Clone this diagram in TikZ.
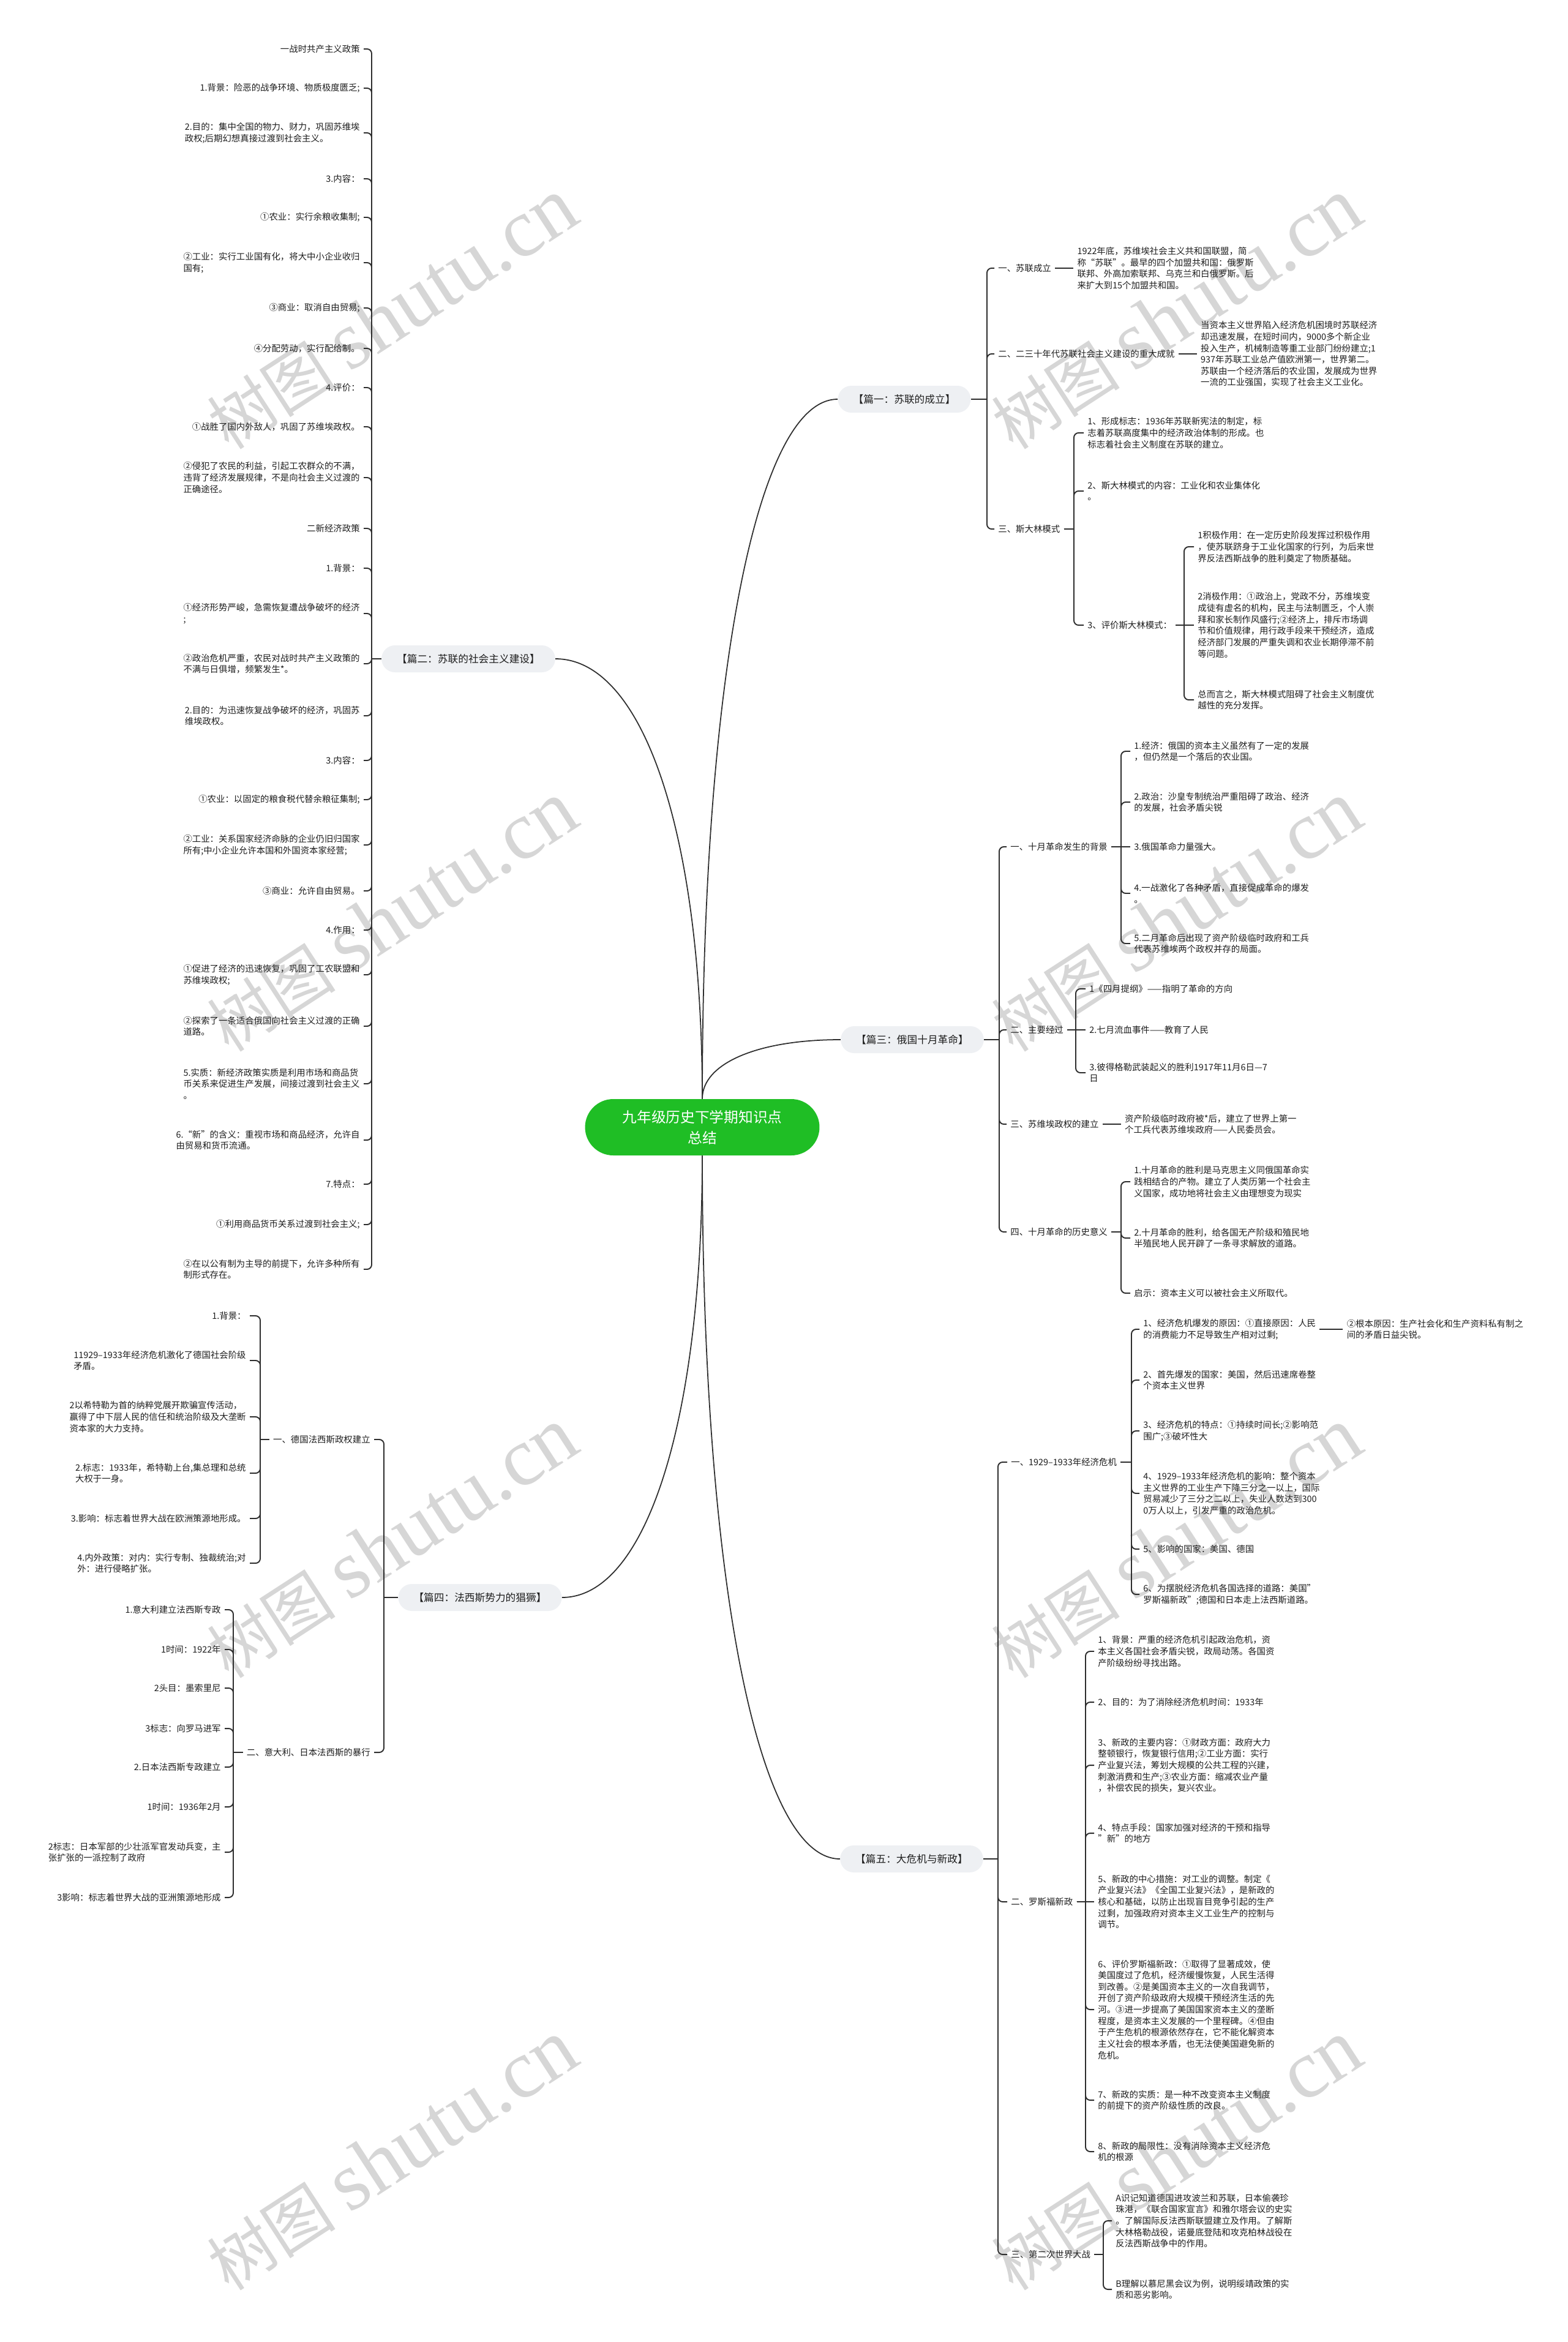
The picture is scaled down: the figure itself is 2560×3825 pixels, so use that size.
\documentclass[tikz,border=0pt]{standalone}
\usepackage{fontspec}
\setmainfont{Noto Sans CJK SC}
\newfontfamily\wmlatin{Liberation Serif}
\usetikzlibrary{positioning, calc}
\definecolor{rootgreen}{HTML}{1FBE25}
\definecolor{pillgray} {HTML}{EEF0F3}
\definecolor{ink}      {HTML}{1E1E1E}
\definecolor{wire}     {HTML}{2E2E2E}
\definecolor{wmark}    {HTML}{D6D6D6}

% elbow links: straight stub from the parent to its spine, rounded turn into the child
\newcommand{\linkR}[3]{\draw[link] (#1.east) -- (#3 |- #1.east); \draw[link] (#3 |- #1.east) -- (#3 |- #2.west) -- (#2.west);}
\newcommand{\linkL}[3]{\draw[link] (#1.west) -- (#3 |- #1.west); \draw[link] (#3 |- #1.west) -- (#3 |- #2.east) -- (#2.east);}
\newcommand{\trunkto}[2]{\draw[trunk] (#1) .. controls ($(#1)!0.6!(#1 |- #2)$) and ($(#2)!0.6!(#1 |- #2)$) .. (#2);}

\begin{document}
\begin{tikzpicture}[x=0.02cm, y=-0.02cm,
    txt/.style={font=\fontsize{8.2}{10.6}\selectfont, text=ink, align=left, inner xsep=0.12cm, inner ysep=0.04cm},
    tr/.style={txt, anchor=west},
    tl/.style={txt, anchor=east},
    pill/.style={fill=pillgray, text=ink, font=\fontsize{9.5}{11}\selectfont, rounded corners=0.44cm, minimum height=0.88cm, inner xsep=0.5cm},
    rootbox/.style={fill=rootgreen, text=white, font=\fontsize{13.5}{19.5}\selectfont, align=center, rounded corners=0.92cm, minimum width=7.66cm, minimum height=1.84cm},
    link/.style={draw=wire, line width=1.1pt, rounded corners=0.15cm},
    trunk/.style={draw=wire, line width=1pt},
    wm/.style={text=wmark, rotate=33, font=\fontsize{60}{60}\selectfont}]
  \useasboundingbox (0,0) rectangle (2560,3825);
  \fill[white] (0,0) rectangle (2560,3825);

  % watermarks
  \foreach \wx in {640,1921}
    \foreach \wy in {513,1497,2520,3520}
      \node[wm] (wm-\wx-\wy) at (\wx,\wy) {树图 {\wmlatin\fontsize{77}{77}\selectfont shutu.cn}};

  \node[rootbox] (root) at (1147,1841) {九年级历史下学期知识点\\总结};

  \node[pill] (p1) at (1477,652)  {【篇一：苏联的成立】};
  \node[pill] (p2) at (765,1076)  {【篇二：苏联的社会主义建设】};
  \node[pill] (p3) at (1490,1698) {【篇三：俄国十月革命】};
  \node[pill] (p4) at (784,2609)  {【篇四：法西斯势力的猖獗】};
  \node[pill] (p5) at (1489,3036) {【篇五：大危机与新政】};

  % 篇一
  \node[tr] (a1) at (1624,438) {一、苏联成立};
  \node[tr, right=0.6cm of a1] (a1t) {1922年底，苏维埃社会主义共和国联盟，简\\称“苏联”。最早的四个加盟共和国：俄罗斯\\联邦、外高加索联邦、乌克兰和白俄罗斯。后\\来扩大到15个加盟共和国。};
  \node[tr] (a2) at (1624,578) {二、二三十年代苏联社会主义建设的重大成就};
  \node[tr, right=0.6cm of a2] (a2t) {当资本主义世界陷入经济危机困境时苏联经济\\却迅速发展，在短时间内，9000多个新企业\\投入生产，机械制造等重工业部门纷纷建立;1\\937年苏联工业总产值欧洲第一，世界第二。\\苏联由一个经济落后的农业国，发展成为世界\\一流的工业强国，实现了社会主义工业化。};
  \node[tr] (a3) at (1624,864) {三、斯大林模式};
  \node[tr] (a31) at (1770,707) {1、形成标志：1936年苏联新宪法的制定，标\\志着苏联高度集中的经济政治体制的形成。也\\标志着社会主义制度在苏联的建立。};
  \node[tr] (a32) at (1770,802) {2、斯大林模式的内容：工业化和农业集体化\\。};
  \node[tr] (a33) at (1770,1021) {3、评价斯大林模式：};
  \node[tr] (a331) at (1950,893) {1积极作用：在一定历史阶段发挥过积极作用\\，使苏联跻身于工业化国家的行列，为后来世\\界反法西斯战争的胜利奠定了物质基础。};
  \node[tr] (a332) at (1950,1021) {2消极作用：①政治上，党政不分，苏维埃变\\成徒有虚名的机构，民主与法制匮乏，个人崇\\拜和家长制作风盛行;②经济上，排斥市场调\\节和价值规律，用行政手段来干预经济，造成\\经济部门发展的严重失调和农业长期停滞不前\\等问题。};
  \node[tr] (a333) at (1950,1143) {总而言之，斯大林模式阻碍了社会主义制度优\\越性的充分发挥。};

  % 篇二
  \node[tl] (e1)  at (594,80)   {一战时共产主义政策};
  \node[tl] (e2)  at (594,144)  {1.背景：险恶的战争环境、物质极度匮乏;};
  \node[tl] (e3)  at (594,217)  {2.目的：集中全国的物力、财力，巩固苏维埃\\政权;后期幻想真接过渡到社会主义。};
  \node[tl] (e4)  at (594,292)  {3.内容：};
  \node[tl] (e5)  at (594,355)  {①农业：实行余粮收集制;};
  \node[tl] (e6)  at (594,429)  {②工业：实行工业国有化，将大中小企业收归\\国有;};
  \node[tl] (e7)  at (594,503)  {③商业：取消自由贸易;};
  \node[tl] (e8)  at (594,569)  {④分配劳动，实行配给制。};
  \node[tl] (e9)  at (594,633)  {4.评价：};
  \node[tl] (e10) at (594,697)  {①战胜了国内外敌人，巩固了苏维埃政权。};
  \node[tl] (e11) at (594,780)  {②侵犯了农民的利益，引起工农群众的不满，\\违背了经济发展规律，不是向社会主义过渡的\\正确途径。};
  \node[tl] (e12) at (594,863)  {二新经济政策};
  \node[tl] (e13) at (594,928)  {1.背景：};
  \node[tl] (e14) at (594,1002) {①经济形势严峻，急需恢复遭战争破坏的经济\\;};
  \node[tl] (e15) at (594,1084) {②政治危机严重，农民对战时共产主义政策的\\不满与日俱增，频繁发生*。};
  \node[tl] (e16) at (594,1169) {2.目的：为迅速恢复战争破坏的经济，巩固苏\\维埃政权。};
  \node[tl] (e17) at (594,1242) {3.内容：};
  \node[tl] (e18) at (594,1306) {①农业：以固定的粮食税代替余粮征集制;};
  \node[tl] (e19) at (594,1380) {②工业：关系国家经济命脉的企业仍旧归国家\\所有;中小企业允许本国和外国资本家经营;};
  \node[tl] (e20) at (594,1455) {③商业：允许自由贸易。};
  \node[tl] (e21) at (594,1519) {4.作用：};
  \node[tl] (e22) at (594,1592) {①促进了经济的迅速恢复，巩固了工农联盟和\\苏维埃政权;};
  \node[tl] (e23) at (594,1676) {②探索了一条适合俄国向社会主义过渡的正确\\道路。};
  \node[tl] (e24) at (594,1770) {5.实质：新经济政策实质是利用市场和商品货\\币关系来促进生产发展，间接过渡到社会主义\\。};
  \node[tl] (e25) at (594,1862) {6.“新”的含义：重视市场和商品经济，允许自\\由贸易和货币流通。};
  \node[tl] (e26) at (594,1934) {7.特点：};
  \node[tl] (e27) at (594,2000) {①利用商品货币关系过渡到社会主义;};
  \node[tl] (e28) at (594,2073) {②在以公有制为主导的前提下，允许多种所有\\制形式存在。};

  % 篇三
  \node[tr] (b1)  at (1644,1383) {一、十月革命发生的背景};
  \node[tr] (b11) at (1846,1227) {1.经济：俄国的资本主义虽然有了一定的发展\\，但仍然是一个落后的农业国。};
  \node[tr] (b12) at (1846,1310) {2.政治：沙皇专制统治严重阻碍了政治、经济\\的发展，社会矛盾尖锐};
  \node[tr] (b13) at (1846,1383) {3.俄国革命力量强大。};
  \node[tr] (b14) at (1846,1459) {4.一战激化了各种矛盾，直接促成革命的爆发\\。};
  \node[tr] (b15) at (1846,1541) {5.二月革命后出现了资产阶级临时政府和工兵\\代表苏维埃两个政权并存的局面。};
  \node[tr] (b2)  at (1644,1682) {二、主要经过};
  \node[tr] (b21) at (1773,1615) {1《四月提纲》——指明了革命的方向};
  \node[tr] (b22) at (1773,1682) {2.七月流血事件——教育了人民};
  \node[tr] (b23) at (1773,1752) {3.彼得格勒武装起义的胜利1917年11月6日—7\\日};
  \node[tr] (b3)  at (1644,1836) {三、苏维埃政权的建立};
  \node[tr, right=0.6cm of b3] (b3t) {资产阶级临时政府被*后，建立了世界上第一\\个工兵代表苏维埃政府——人民委员会。};
  \node[tr] (b4)  at (1644,2012) {四、十月革命的历史意义};
  \node[tr] (b41) at (1846,1930) {1.十月革命的胜利是马克思主义同俄国革命实\\践相结合的产物。建立了人类历第一个社会主\\义国家，成功地将社会主义由理想变为现实};
  \node[tr] (b42) at (1846,2022) {2.十月革命的胜利，给各国无产阶级和殖民地\\半殖民地人民开辟了一条寻求解放的道路。};
  \node[tr] (b43) at (1846,2112) {启示：资本主义可以被社会主义所取代。};

  % 篇四
  \node[tl] (d1)  at (611,2351) {一、德国法西斯政权建立};
  \node[tl] (d11) at (408,2149) {1.背景：};
  \node[tl] (d12) at (408,2222) {11929–1933年经济危机激化了德国社会阶级\\矛盾。};
  \node[tl] (d13) at (408,2314) {2以希特勒为首的纳粹党展开欺骗宣传活动，\\赢得了中下层人民的信任和统治阶级及大垄断\\资本家的大力支持。};
  \node[tl] (d14) at (408,2406) {2.标志：1933年，希特勒上台,集总理和总统\\大权于一身。};
  \node[tl] (d15) at (408,2480) {3.影响：标志着世界大战在欧洲策源地形成。};
  \node[tl] (d16) at (408,2553) {4.内外政策：对内：实行专制、独裁统治;对\\外：进行侵略扩张。};
  \node[tl] (d2)  at (611,2862) {二、意大利、日本法西斯的暴行};
  \node[tl] (d21) at (367,2629) {1.意大利建立法西斯专政};
  \node[tl] (d22) at (367,2694) {1时间：1922年};
  \node[tl] (d23) at (367,2757) {2头目：墨索里尼};
  \node[tl] (d24) at (367,2823) {3标志：向罗马进军};
  \node[tl] (d25) at (367,2886) {2.日本法西斯专政建立};
  \node[tl] (d26) at (367,2951) {1时间：1936年2月};
  \node[tl] (d27) at (367,3025) {2标志：日本军部的少壮派军官发动兵变，主\\张扩张的一派控制了政府};
  \node[tl] (d28) at (367,3099) {3影响：标志着世界大战的亚洲策源地形成};

  % 篇五
  \node[tr] (c1)  at (1645,2388) {一、1929–1933年经济危机};
  \node[tr] (c11) at (1861,2171) {1、经济危机爆发的原因：①直接原因：人民\\的消费能力不足导致生产相对过剩;};
  \node[tr, right=0.76cm of c11] (c111) {②根本原因：生产社会化和生产资料私有制之\\间的矛盾日益尖锐。};
  \node[tr] (c12) at (1861,2254) {2、首先爆发的国家：美国，然后迅速席卷整\\个资本主义世界};
  \node[tr] (c13) at (1861,2337) {3、经济危机的特点：①持续时间长;②影响范\\围广;③破坏性大};
  \node[tr] (c14) at (1861,2439) {4、1929–1933年经济危机的影响：整个资本\\主义世界的工业生产下降三分之一以上，国际\\贸易减少了三分之二以上，失业人数达到300\\0万人以上，引发严重的政治危机。};
  \node[tr] (c15) at (1861,2530) {5、影响的国家：美国、德国};
  \node[tr] (c16) at (1861,2604) {6、为摆脱经济危机各国选择的道路：美国"\\罗斯福新政";德国和日本走上法西斯道路。};
  \node[tr] (c2)  at (1645,3106) {二、罗斯福新政};
  \node[tr] (c21) at (1787,2697) {1、背景：严重的经济危机引起政治危机，资\\本主义各国社会矛盾尖锐，政局动荡。各国资\\产阶级纷纷寻找出路。};
  \node[tr] (c22) at (1787,2780) {2、目的：为了消除经济危机时间：1933年};
  \node[tr] (c23) at (1787,2883) {3、新政的主要内容：①财政方面：政府大力\\整顿银行，恢复银行信用;②工业方面：实行\\产业复兴法，筹划大规模的公共工程的兴建，\\刺激消费和生产;③农业方面：缩减农业产量\\，补偿农民的损失，复兴农业。};
  \node[tr] (c24) at (1787,2994) {4、特点手段：国家加强对经济的干预和指导\\"新"的地方};
  \node[tr] (c25) at (1787,3106) {5、新政的中心措施：对工业的调整。制定《\\产业复兴法》《全国工业复兴法》，是新政的\\核心和基础，以防止出现盲目竞争引起的生产\\过剩，加强政府对资本主义工业生产的控制与\\调节。};
  \node[tr] (c26) at (1787,3282) {6、评价罗斯福新政：①取得了显著成效，使\\美国度过了危机，经济缓慢恢复，人民生活得\\到改善。②是美国资本主义的一次自我调节，\\开创了资产阶级政府大规模干预经济生活的先\\河。③进一步提高了美国国家资本主义的垄断\\程度，是资本主义发展的一个里程碑。④但由\\于产生危机的根源依然存在，它不能化解资本\\主义社会的根本矛盾，也无法使美国避免新的\\危机。};
  \node[tr] (c27) at (1787,3430) {7、新政的实质：是一种不改变资本主义制度\\的前提下的资产阶级性质的改良。};
  \node[tr] (c28) at (1787,3514) {8、新政的局限性：没有消除资本主义经济危\\机的根源};
  \node[tr] (c3)  at (1645,3682) {三、第二次世界大战};
  \node[tr] (c31) at (1816,3627) {A识记知道德国进攻波兰和苏联，日本偷袭珍\\珠港，《联合国家宣言》和雅尔塔会议的史实\\。了解国际反法西斯联盟建立及作用。了解斯\\大林格勒战役，诺曼底登陆和攻克柏林战役在\\反法西斯战争中的作用。};
  \node[tr] (c32) at (1816,3739) {B理解以慕尼黑会议为例，说明绥靖政策的实\\质和恶劣影响。};

  % spines
  \coordinate (s1)   at (1612,652);
  \coordinate (s13)  at (1754,864);
  \coordinate (s133) at (1934,1021);
  \coordinate (s2)   at (607,1076);
  \coordinate (s3)   at (1632,1698);
  \coordinate (s31)  at (1831,1383);
  \coordinate (s32)  at (1757,1682);
  \coordinate (s34)  at (1831,2012);
  \coordinate (s4)   at (627,2609);
  \coordinate (s41)  at (425,2351);
  \coordinate (s42)  at (381,2862);
  \coordinate (s5)   at (1630,3036);
  \coordinate (s51)  at (1848,2388);
  \coordinate (s52)  at (1773,3106);
  \coordinate (s53)  at (1802,3682);

  % root to sections
  \trunkto{root.north}{p1.west}
  \trunkto{root.north}{p2.east}
  \trunkto{root.north}{p3.west}
  \trunkto{root.south}{p4.east}
  \trunkto{root.south}{p5.west}

  % 篇一 links
  \foreach \c in {a1,a2,a3} {\linkR{p1}{\c}{s1}}
  \draw[link] (a1.east) -- (a1t.west);
  \draw[link] (a2.east) -- (a2t.west);
  \foreach \n in {1,2,3} {\linkR{a3}{a3\n}{s13}}
  \foreach \n in {1,3} {\linkR{a33}{a33\n}{s133}}
  \draw[link] (a33.east) -- (a332.west);

  % 篇二 links
  \foreach \n in {1,...,28} {\linkL{p2}{e\n}{s2}}

  % 篇三 links
  \foreach \c in {b1,b2,b3,b4} {\linkR{p3}{\c}{s3}}
  \foreach \n in {1,2,4,5} {\linkR{b1}{b1\n}{s31}}
  \draw[link] (b1.east) -- (b13.west);
  \foreach \n in {1,3} {\linkR{b2}{b2\n}{s32}}
  \draw[link] (b2.east) -- (b22.west);
  \draw[link] (b3.east) -- (b3t.west);
  \foreach \n in {1,2,3} {\linkR{b4}{b4\n}{s34}}

  % 篇四 links
  \foreach \c in {d1,d2} {\linkL{p4}{\c}{s4}}
  \foreach \n in {1,...,6} {\linkL{d1}{d1\n}{s41}}
  \foreach \n in {1,...,8} {\linkL{d2}{d2\n}{s42}}

  % 篇五 links
  \foreach \c in {c1,c2,c3} {\linkR{p5}{\c}{s5}}
  \foreach \n in {1,...,6} {\linkR{c1}{c1\n}{s51}}
  \draw[link] (c11.east) -- (c111.west);
  \foreach \n in {1,2,3,4,6,7,8} {\linkR{c2}{c2\n}{s52}}
  \draw[link] (c2.east) -- (c25.west);
  \foreach \n in {1,2} {\linkR{c3}{c3\n}{s53}}
\end{tikzpicture}
\end{document}
